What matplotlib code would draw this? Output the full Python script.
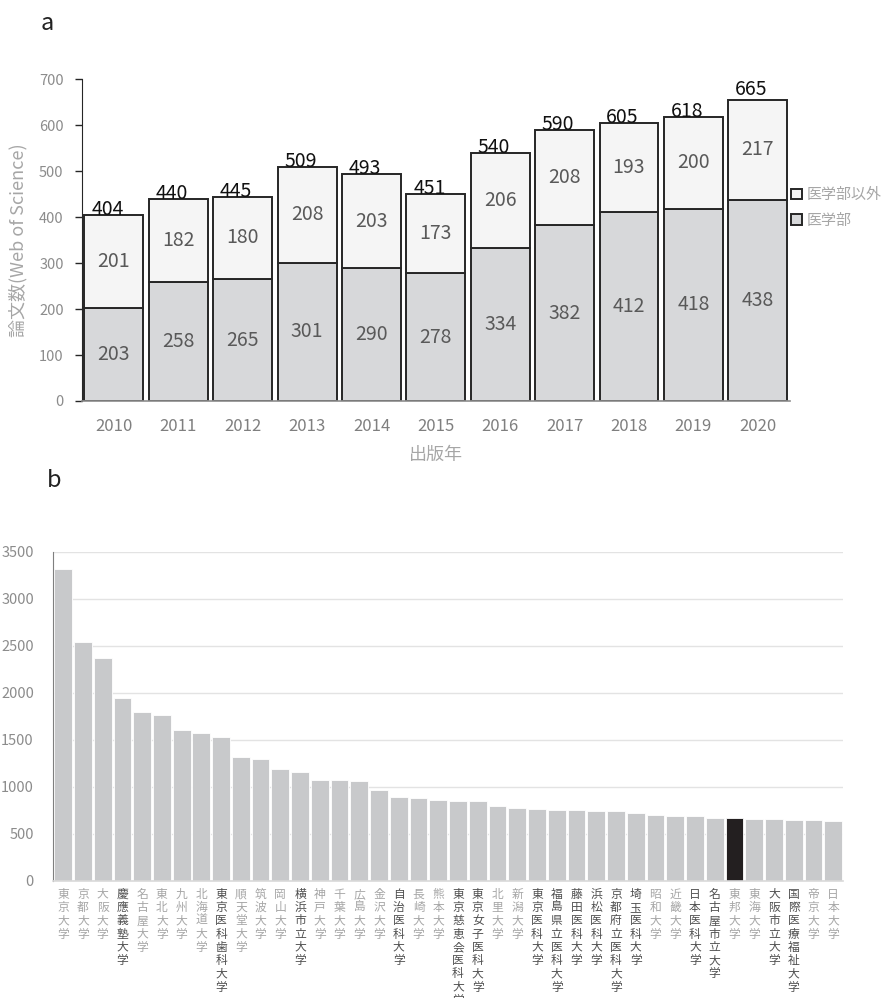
import numpy as np
import matplotlib
matplotlib.use("Agg")
import matplotlib.pyplot as plt
from matplotlib.patches import Patch

plt.rcParams['font.family'] = ['Noto Sans CJK JP', 'DejaVu Sans']

# panel a data
years = ['2010', '2011', '2012', '2013', '2014', '2015', '2016', '2017', '2018', '2019', '2020']
med = [203, 258, 265, 301, 290, 278, 334, 382, 412, 418, 438]
non_med = [201, 182, 180, 208, 203, 173, 206, 208, 193, 200, 217]
totals = [404, 440, 445, 509, 493, 451, 540, 590, 605, 618, 665]

# panel b data
univs = ['東京大学', '京都大学', '大阪大学', '慶應義塾大学', '名古屋大学', '東北大学', '九州大学',
         '北海道大学', '東京医科歯科大学', '順天堂大学', '筑波大学', '岡山大学', '横浜市立大学',
         '神戸大学', '千葉大学', '広島大学', '金沢大学', '自治医科大学', '長崎大学', '熊本大学',
         '東京慈恵会医科大学', '東京女子医科大学', '北里大学', '新潟大学', '東京医科大学',
         '福島県立医科大学', '藤田医科大学', '浜松医科大学', '京都府立医科大学', '埼玉医科大学',
         '昭和大学', '近畿大学', '日本医科大学', '名古屋市立大学', '東邦大学', '東海大学',
         '大阪市立大学', '国際医療福祉大学', '帝京大学', '日本大学']
papers = [3320, 2540, 2365, 1940, 1800, 1760, 1605, 1570, 1525, 1320, 1290, 1185, 1155,
          1070, 1070, 1065, 960, 890, 885, 855, 845, 845, 790, 775, 760,
          750, 750, 742, 738, 724, 696, 692, 692, 665, 665, 656,
          653, 646, 642, 638]
dark_labels = ['慶應義塾大学', '東京医科歯科大学', '横浜市立大学', '自治医科大学', '東京慈恵会医科大学',
               '東京女子医科大学', '東京医科大学', '福島県立医科大学', '藤田医科大学', '浜松医科大学',
               '京都府立医科大学', '埼玉医科大学', '日本医科大学', '名古屋市立大学', '大阪市立大学',
               '国際医療福祉大学']
highlight = '東邦大学'

fig = plt.figure(figsize=(8.87, 9.98), dpi=100)

# ---- panel a ----
ax = fig.add_axes([0.0921, 0.5982, 0.7985, 0.3223])
x = np.arange(len(years))
w = 0.915
ax.bar(x, med, w, color='#d7d8da', edgecolor='#262626', linewidth=1.4, label='医学部')
ax.bar(x, non_med, w, bottom=med, color='#f5f5f5', edgecolor='#262626', linewidth=1.4,
       label='医学部以外')
for i in range(len(years)):
    ax.text(x[i], med[i] / 2, str(med[i]), ha='center', va='center', fontsize=14, color='#595959')
    ax.text(x[i], med[i] + non_med[i] / 2, str(non_med[i]), ha='center', va='center',
            fontsize=14, color='#595959')
    ax.text(x[i] - 0.1, totals[i], str(totals[i]), ha='center', va='baseline',
            fontsize=14, color='#111111')

ax.set_xlim(-0.5, 10.5)
ax.set_ylim(0, 700)
ax.set_yticks(np.arange(0, 701, 100))
ax.set_xticks(x)
ax.set_xticklabels(years)
ax.tick_params(axis='x', length=0, pad=12, labelsize=12, labelcolor='#7f7f7f')
ax.tick_params(axis='y', length=5, width=1, color='#262626', pad=8, labelsize=10.5,
               labelcolor='#8c8c8c')
for s in ['top', 'right']:
    ax.spines[s].set_visible(False)
ax.spines['left'].set_color('#262626')
ax.spines['bottom'].set_color('#8c8c8c')
ax.spines['bottom'].set_linewidth(1.2)
ax.set_ylabel('論文数(Web of Science)', fontsize=13, color='#a6a6a6', labelpad=8)
ax.set_xlabel('出版年', fontsize=13, color='#a6a6a6', labelpad=8)

handles = [Patch(facecolor='#f5f5f5', edgecolor='#262626', linewidth=1.4),
           Patch(facecolor='#d7d8da', edgecolor='#262626', linewidth=1.4)]
leg = ax.legend(handles, ['医学部以外', '医学部'], loc='center left', bbox_to_anchor=(1.0, 0.6),
                frameon=False, fontsize=10.8, handlelength=0.7, handleheight=0.7,
                handletextpad=0.3, labelspacing=0.75, borderaxespad=0.0, borderpad=0.1)
for t in leg.get_texts():
    t.set_color('#a6a6a6')

fig.text(0.0535, 0.970, 'a', fontsize=17, color='#222222', va='baseline', ha='center')
fig.text(0.061, 0.512, 'b', fontsize=17, color='#222222', va='baseline', ha='center')

# ---- panel b ----
bx = fig.add_axes([0.0601, 0.1175, 0.8903, 0.3297])
xb = np.arange(len(univs))
colors = ['#231f20' if u == highlight else '#c8c9cb' for u in univs]
bx.bar(xb, papers, 0.9, color=colors, edgecolor='white', linewidth=0.6, zorder=2)
bx.set_xlim(-0.5, len(univs) - 0.5)
bx.set_ylim(0, 3500)
bx.set_yticks(np.arange(0, 3501, 500))
bx.yaxis.grid(True, color='#e3e3e3', linewidth=1.0, zorder=0)
bx.set_axisbelow(True)
bx.set_xticks(xb)
bx.set_xticklabels(['\n'.join(u) for u in univs], fontsize=8.5, linespacing=1.03, va='top')
for lbl, u in zip(bx.get_xticklabels(), univs):
    lbl.set_color('#505050' if u in dark_labels else '#a6a6a6')
bx.tick_params(axis='x', length=0, pad=5)
bx.tick_params(axis='y', length=0, pad=14, labelsize=10.5, labelcolor='#8c8c8c')
for s in ['top', 'right']:
    bx.spines[s].set_visible(False)
bx.spines['left'].set_color('#7f7f7f')
bx.spines['bottom'].set_color('#d9d9d9')
bx.spines['bottom'].set_linewidth(1.2)

fig.savefig('out.png', dpi=100)
